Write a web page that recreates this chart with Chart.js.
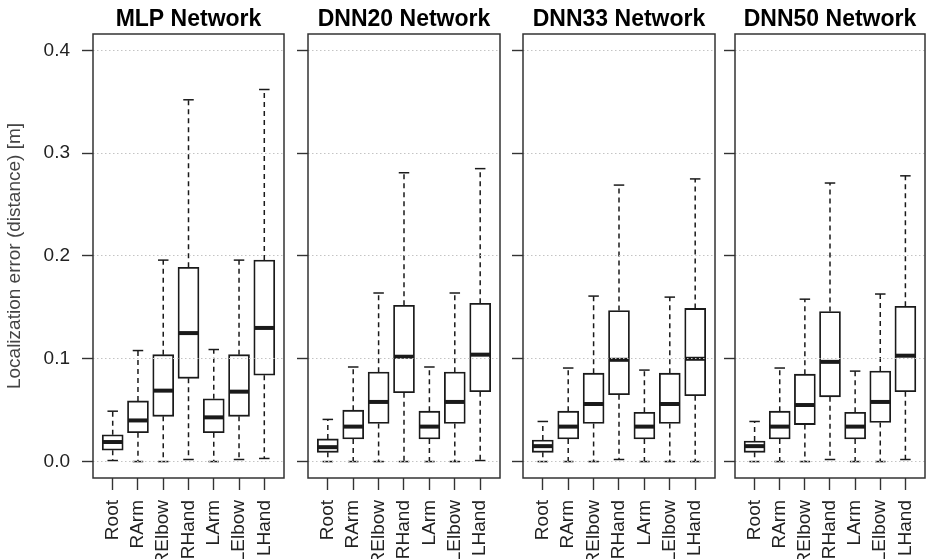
<!DOCTYPE html>
<html><head><meta charset="utf-8">
<script src="https://cdn.jsdelivr.net/npm/chart.js@4.4.1/dist/chart.umd.min.js"></script>
<style>
html,body{margin:0;padding:0;background:#fff;overflow:hidden;}
#wrap{position:relative;width:927px;height:559px;overflow:hidden;background:#fff;}
canvas{position:absolute;top:0;}
</style></head><body><div id="wrap">
<canvas id="c0"></canvas><canvas id="c1"></canvas><canvas id="c2"></canvas><canvas id="c3"></canvas>
</div>
<script>
const categories = ['Root','RArm','RElbow','RHand','LArm','LElbow','LHand'];
const panelTitles = ['MLP Network','DNN20 Network','DNN33 Network','DNN50 Network'];
const yTicks = [0.0, 0.1, 0.2, 0.3, 0.4];
const yTitle = 'Localization error (distance) [m]';

// MLP Network
const mlpMin = [0.001, 0.000, 0.000, 0.002, 0.000, 0.002, 0.003];
const mlpQ1  = [0.011, 0.028, 0.044, 0.081, 0.028, 0.044, 0.084];
const mlpMed = [0.019, 0.040, 0.069, 0.125, 0.043, 0.068, 0.130];
const mlpQ3  = [0.026, 0.059, 0.104, 0.189, 0.061, 0.104, 0.196];
const mlpMax = [0.049, 0.108, 0.196, 0.352, 0.109, 0.196, 0.362];
// DNN20 Network
const dnn20Min = [0.000, 0.000, 0.000, 0.000, 0.000, 0.000, 0.001];
const dnn20Q1  = [0.009, 0.022, 0.037, 0.067, 0.022, 0.037, 0.068];
const dnn20Med = [0.014, 0.034, 0.058, 0.102, 0.034, 0.058, 0.104];
const dnn20Q3  = [0.022, 0.050, 0.087, 0.152, 0.049, 0.087, 0.154];
const dnn20Max = [0.041, 0.092, 0.164, 0.281, 0.092, 0.164, 0.285];
// DNN33 Network
const dnn33Min = [0.000, 0.000, 0.000, 0.002, 0.000, 0.000, 0.000];
const dnn33Q1  = [0.009, 0.022, 0.037, 0.065, 0.022, 0.037, 0.064];
const dnn33Med = [0.015, 0.034, 0.056, 0.099, 0.034, 0.056, 0.100];
const dnn33Q3  = [0.021, 0.049, 0.086, 0.147, 0.048, 0.086, 0.149];
const dnn33Max = [0.039, 0.091, 0.161, 0.269, 0.089, 0.160, 0.275];
// DNN50 Network
const dnn50Min = [0.000, 0.000, 0.000, 0.002, 0.000, 0.000, 0.002];
const dnn50Q1  = [0.009, 0.022, 0.036, 0.063, 0.022, 0.038, 0.068];
const dnn50Med = [0.015, 0.034, 0.055, 0.097, 0.034, 0.058, 0.103];
const dnn50Q3  = [0.020, 0.049, 0.085, 0.146, 0.048, 0.088, 0.151];
const dnn50Max = [0.039, 0.091, 0.158, 0.271, 0.088, 0.163, 0.278];

const panelStats = [
  {min: mlpMin, q1: mlpQ1, med: mlpMed, q3: mlpQ3, max: mlpMax},
  {min: dnn20Min, q1: dnn20Q1, med: dnn20Med, q3: dnn20Q3, max: dnn20Max},
  {min: dnn33Min, q1: dnn33Q1, med: dnn33Med, q3: dnn33Q3, max: dnn33Max},
  {min: dnn50Min, q1: dnn50Q1, med: dnn50Med, q3: dnn50Q3, max: dnn50Max}
];

// layout (pixel geometry of each panel frame)
const frames = [
  {left: 93, right: 284},
  {left: 308, right: 500},
  {left: 523, right: 715},
  {left: 735, right: 925}
];
const FONT = "'Liberation Sans', Arial, Helvetica, sans-serif";
const INK = '#1a1a1a';
const BOX_W = 21;

function makeBoxPlugin(st) {
  return {
    id: 'boxExtras',
    afterDatasetsDraw(chart) {
      const {ctx} = chart;
      const x = chart.scales.x, y = chart.scales.y;
      ctx.save();
      ctx.strokeStyle = INK;
      const line = (x1, y1, x2, y2) => { ctx.beginPath(); ctx.moveTo(x1, y1); ctx.lineTo(x2, y2); ctx.stroke(); };
      for (let i = 0; i < categories.length; i++) {
        const px = x.getPixelForValue(i + 1);
        const pMin = y.getPixelForValue(st.min[i]);
        const pQ1 = y.getPixelForValue(st.q1[i]);
        const pMed = y.getPixelForValue(st.med[i]);
        const pQ3 = y.getPixelForValue(st.q3[i]);
        const pMax = y.getPixelForValue(st.max[i]);
        ctx.lineWidth = 1.5;
        ctx.setLineDash([5, 4]);
        line(px, pQ3, px, pMax);
        line(px, pQ1, px, pMin);
        ctx.setLineDash([]);
        const cap = BOX_W / 4;
        line(px - cap, pMax, px + cap, pMax);
        line(px - cap, pMin, px + cap, pMin);
        ctx.lineWidth = 4;
        line(px - BOX_W / 2 + 0.5, pMed, px + BOX_W / 2 - 0.5, pMed);
      }
      ctx.restore();
    },
    afterDraw(chart) {
      const {ctx, chartArea: a} = chart;
      ctx.save();
      ctx.strokeStyle = '#333';
      ctx.lineWidth = 1.5;
      ctx.strokeRect(a.left, a.top, a.right - a.left, a.bottom - a.top);
      ctx.restore();
    }
  };
}

frames.forEach((fr, p) => {
  const first = p === 0;
  const axisW = first ? 93 : 14;
  const rightPad = 2;
  const canvas = document.getElementById('c' + p);
  const w = axisW + (fr.right - fr.left) + rightPad;
  canvas.width = w; canvas.height = 559;
  canvas.style.left = (fr.left - axisW) + 'px';
  const st = panelStats[p];
  new Chart(canvas, {
    type: 'bar',
    data: {
      datasets: [{
        data: categories.map((c, i) => ({x: i + 1, y: [st.q1[i], st.q3[i]]})),
        backgroundColor: '#ffffff',
        borderColor: INK,
        borderWidth: 1.8,
        borderSkipped: false,
        barThickness: BOX_W
      }]
    },
    options: {
      responsive: false,
      animation: false,
      events: [],
      devicePixelRatio: 1,
      layout: {padding: {left: 0, right: rightPad, top: 0, bottom: 0}},
      plugins: {
        legend: {display: false},
        tooltip: {enabled: false},
        title: {
          display: true, text: panelTitles[p], fullSize: false,
          color: '#000', font: {family: FONT, size: 23, weight: 'bold'},
          padding: {top: 6, bottom: 0.4}
        }
      },
      scales: {
        x: {
          type: 'linear', min: 0.22, max: 7.78, bounds: 'data', offset: false,
          afterBuildTicks: s => { s.ticks = categories.map((c, i) => ({value: i + 1})); },
          afterFit: s => { s.height = 81; s.paddingLeft = 0; s.paddingRight = 0; },
          grid: {offset: false, drawOnChartArea: false, drawTicks: true, tickLength: 12, tickColor: '#333', tickWidth: 1.4, z: 1},
          border: {display: false},
          ticks: {
            autoSkip: false, minRotation: 90, maxRotation: 90, padding: 10,
            color: '#222', font: {family: FONT, size: 19},
            callback: v => categories[Math.round(v) - 1]
          }
        },
        y: {
          type: 'linear', min: -0.016, max: 0.416, bounds: 'data',
          afterBuildTicks: s => { s.ticks = yTicks.map(v => ({value: v})); },
          afterFit: s => { s.width = axisW; s.paddingTop = 0; s.paddingBottom = 0; },
          grid: {drawOnChartArea: true, color: '#c4c4c4', lineWidth: 1, drawTicks: true, tickLength: 11, tickColor: '#333', tickWidth: 1.4, z: 1},
          border: {display: false, dash: [1.5, 2.5]},
          ticks: {display: first, padding: 12, color: '#222', font: {family: FONT, size: 19}, callback: v => Number(v).toFixed(1)},
          title: {display: first, text: yTitle, color: '#444', font: {family: FONT, size: 19}, padding: {top: 3.6, bottom: 0}}
        }
      }
    },
    plugins: [makeBoxPlugin(st)]
  });
});
</script>
</body></html>
